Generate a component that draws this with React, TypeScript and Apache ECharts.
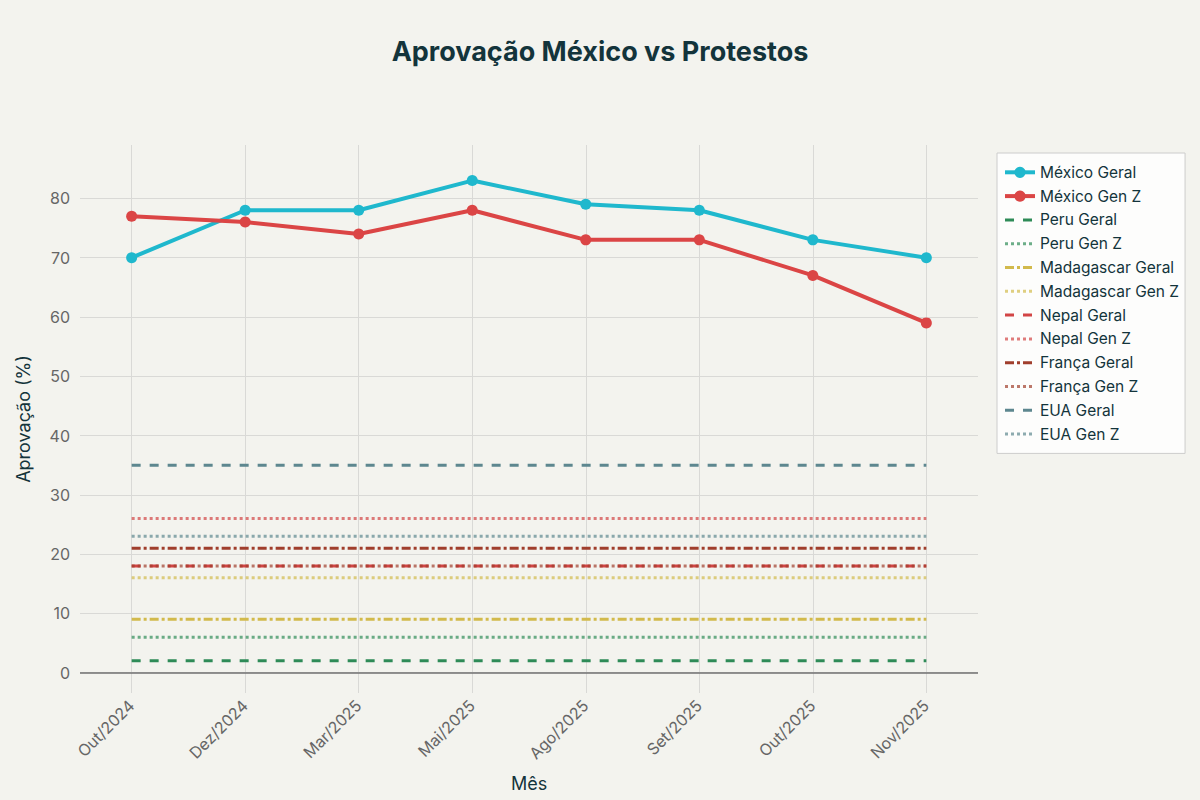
import React, { useEffect, useRef } from "react";
import * as echarts from "echarts";

const months = ["Out/2024", "Dez/2024", "Mar/2025", "Mai/2025", "Ago/2025", "Set/2025", "Out/2025", "Nov/2025"];
const mexicoGeral = [70, 78, 78, 83, 79, 78, 73, 70];
const mexicoGenZ = [77, 76, 74, 78, 73, 73, 67, 59];
const countryNames = ["Peru Geral", "Peru Gen Z", "Madagascar Geral", "Madagascar Gen Z", "Nepal Geral", "Nepal Gen Z", "França Geral", "França Gen Z", "EUA Geral", "EUA Gen Z"];
const countryValues = [2, 6, 9, 16, 18, 26, 21, 18, 35, 23];
const yTicks = [0, 10, 20, 30, 40, 50, 60, 70, 80];

const countryColors = ["#2E8B57", "#2E8B57", "#D2BA4C", "#D2BA4C", "#D24545", "#D24545", "#A03E2C", "#A03E2C", "#5D878F", "#5D878F"];
const countryOpacity = [1, 0.7, 1, 0.7, 1, 0.7, 1, 0.7, 1, 0.7];
const DASH = [9, 9];
const DOT = [3, 3];
const DASHDOT = [9, 3, 3, 3];
const countryDash = [DASH, DOT, DASHDOT, DOT, DASH, DOT, DASHDOT, DOT, DASH, DOT];

const FONT = "Inter, 'Liberation Sans', sans-serif";

export default function App() {
  const ref = useRef<HTMLDivElement>(null);
  useEffect(() => {
    document.body.style.margin = "0";
    if (!ref.current) return;
    const chart = echarts.init(ref.current, null, { renderer: "svg" });
    const xIdx = months.map((_, i) => i);
    const series: any[] = [
      {
        name: "México Geral",
        type: "line",
        data: mexicoGeral.map((v, i) => [i, v]),
        symbol: "circle",
        symbolSize: 11,
        lineStyle: { color: "#1FB8CD", width: 4 },
        itemStyle: { color: "#1FB8CD" },
        z: 3,
        markLine: {
          silent: true,
          symbol: "none",
          label: { show: false },
          lineStyle: { color: "#707070", width: 1.5, type: "solid" },
          data: [{ yAxis: 0 }],
          z: 1,
        },
      },
      {
        name: "México Gen Z",
        type: "line",
        data: mexicoGenZ.map((v, i) => [i, v]),
        symbol: "circle",
        symbolSize: 11,
        lineStyle: { color: "#DB4545", width: 4 },
        itemStyle: { color: "#DB4545" },
        z: 3,
      },
    ];
    countryNames.forEach((name, k) => {
      series.push({
        name,
        type: "line",
        data: xIdx.map((i) => [i, countryValues[k]]),
        symbol: "none",
        showSymbol: false,
        lineStyle: {
          color: countryColors[k],
          opacity: countryOpacity[k],
          width: 3,
          type: countryDash[k],
        },
        itemStyle: { color: "rgba(0,0,0,0)", borderWidth: 0 },
        z: 2,
      });
    });

    chart.setOption({
      animation: false,
      backgroundColor: "#F3F3EE",
      textStyle: { fontFamily: FONT },
      title: {
        text: "Aprovação México vs Protestos",
        left: "center",
        top: 33,
        textStyle: { fontFamily: FONT, fontSize: 27, fontWeight: "bold", color: "#13343B" },
      },
      legend: {
        orient: "vertical",
        left: 997,
        top: 153,
        padding: [10, 6, 10, 6],
        itemWidth: 30,
        itemHeight: 14,
        itemGap: 5.2,
        backgroundColor: "rgba(255,255,255,0.8)",
        borderColor: "#CCCCCC",
        borderWidth: 1,
        lineStyle: { width: 3 },
        textStyle: { fontFamily: FONT, fontSize: 15.5, color: "#13343B", lineHeight: 18.6 },
        data: [
          { name: "México Geral", lineStyle: { width: 4 } },
          { name: "México Gen Z", lineStyle: { width: 4 } },
          ...countryNames,
        ],
      },
      grid: { left: 80, right: 222, top: 145, bottom: 107, containLabel: false },
      xAxis: {
        type: "value",
        min: -0.455,
        max: 7.455,
        name: "Mês",
        nameLocation: "middle",
        nameGap: 81,
        nameTextStyle: { fontFamily: FONT, fontSize: 18, color: "#13343B" },
        axisLine: { show: false },
        axisTick: { show: false, customValues: xIdx },
        axisLabel: {
          customValues: xIdx,
          rotate: 45,
          margin: 10,
          fontSize: 16,
          color: "#666666",
          fontFamily: FONT,
          formatter: (v: number) => months[Math.round(v)] ?? "",
        },
        splitLine: { show: true, lineStyle: { color: "#D9D9D6", width: 1 } },
      },
      yAxis: {
        type: "value",
        min: -3.42,
        max: 89,
        name: "Aprovação (%)",
        nameLocation: "middle",
        nameGap: 48,
        nameTextStyle: { fontFamily: FONT, fontSize: 18, color: "#13343B" },
        axisLine: { show: false },
        axisTick: { show: true, length: 5, customValues: yTicks, lineStyle: { color: "#D9D9D6" } },
        axisLabel: {
          customValues: yTicks,
          margin: 10,
          fontSize: 16,
          color: "#666666",
          fontFamily: FONT,
        },
        splitLine: { show: true, lineStyle: { color: "#D9D9D6", width: 1 } },
      },
      series,
    });
    return () => chart.dispose();
  }, []);
  return <div ref={ref} style={{ width: 1200, height: 800 }} />;
}
